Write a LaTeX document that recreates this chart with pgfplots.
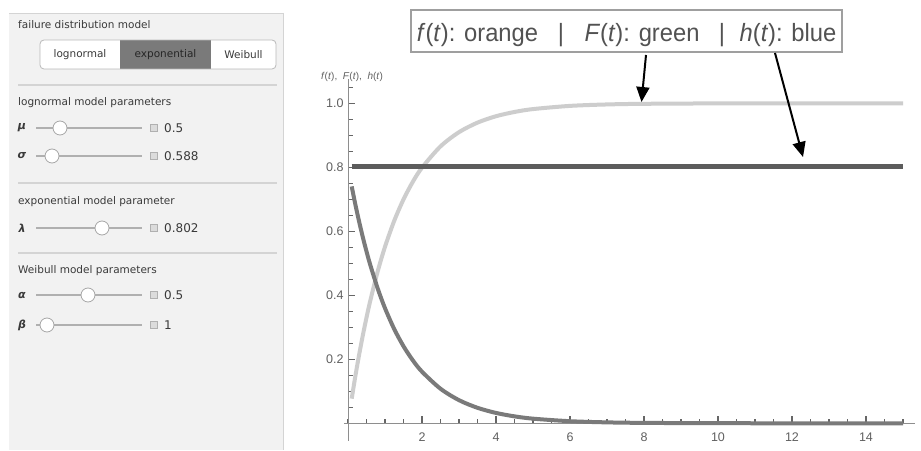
\documentclass[border=0pt]{standalone}
\usepackage{pgfplots}
\pgfplotsset{compat=1.18}
\usepackage{fontspec}
\setmainfont{Liberation Sans}
\newfontfamily\ui{DejaVu Sans}
\newfontfamily\boxfont[FakeStretch=0.95]{Liberation Sans}
\usetikzlibrary{arrows.meta}
\definecolor{panel}{HTML}{F2F2F2}
\definecolor{panelline}{HTML}{D4D4D4}
\definecolor{uitext}{HTML}{3A3A3A}
\definecolor{track}{HTML}{B0B0B0}
\definecolor{axisgray}{HTML}{8E8E8E}
\definecolor{tickgray}{HTML}{666666}
\definecolor{labelgray}{HTML}{606060}
\definecolor{fcol}{HTML}{7A7A7A}
\definecolor{Fcol}{HTML}{CDCDCD}
\definecolor{hcol}{HTML}{5C5C5C}
\newcommand{\slider}[4]{%
  \draw[track, line width=1.6pt] (36,#1) -- (142,#1);
  \draw[fill=white, draw=gray!70, line width=0.8pt] (#2,#1) circle (7);
  \draw[fill=panel!80!gray, draw=track, line width=0.7pt] (150.5,{#1-3.5}) rectangle (157.5,{#1+3.5});
  \node[anchor=west, inner sep=0, text=uitext, font=\ui\fontsize{12}{14}\selectfont] at (164,#1) {#3};
  \node[anchor=center, inner sep=0, text=uitext, font=\ui\bfseries\itshape\fontsize{11}{13}\selectfont] at (22,#1) {#4};
}
\begin{document}
\begin{tikzpicture}
\useasboundingbox (0,0) rectangle (921pt,450pt);
\fill[white] (0,0) rectangle (921pt,450pt);
\begin{scope}[x=1pt,y=-1pt,yshift=450pt]
  % control panel
  \fill[panel] (9,13) rectangle (283,450);
  \draw[panelline, line width=1pt] (283,13) -- (283,450);
  \draw[panelline, line width=0.6pt] (9,13) -- (283,13);
  \node[anchor=west, inner sep=0, text=uitext, font=\ui\fontsize{10.5}{12}\selectfont] at (18,25) {failure distribution model};
  \fill[white, rounded corners=4pt] (40,40) rectangle (276,69);
  \fill[fcol] (120,40) rectangle (211,69);
  \draw[gray!55, line width=0.8pt, rounded corners=4pt] (40,40) rectangle (276,69);
  \node[text=uitext, font=\ui\fontsize{10.5}{12}\selectfont] at (80,55) {lognormal};
  \node[text=black!85, font=\ui\fontsize{10.5}{12}\selectfont] at (165.5,55) {exponential};
  \node[text=uitext, font=\ui\fontsize{10.5}{12}\selectfont] at (243.5,55) {Weibull};
  \draw[panelline, line width=1.2pt] (18,85) -- (277,85);
  \node[anchor=west, inner sep=0, text=uitext, font=\ui\fontsize{10.5}{12}\selectfont] at (18,103) {lognormal model parameters};
  \slider{128}{60}{0.5}{μ}
  \slider{156}{52}{0.588}{σ}
  \draw[panelline, line width=1.2pt] (18,183) -- (277,183);
  \node[anchor=west, inner sep=0, text=uitext, font=\ui\fontsize{10.5}{12}\selectfont] at (18,202) {exponential model parameter};
  \slider{228}{102}{0.802}{λ}
  \draw[panelline, line width=1.2pt] (18,253) -- (277,253);
  \node[anchor=west, inner sep=0, text=uitext, font=\ui\fontsize{10.5}{12}\selectfont] at (18,271) {Weibull model parameters};
  \slider{295}{88}{0.5}{α}
  \slider{325}{47}{1}{β}
\end{scope}
\begin{axis}[
  at={(344.3pt,9.1pt)}, anchor=south west,
  scale only axis, width=570.9pt, height=361.6pt,
  xmin=-0.1, xmax=15.33, ymin=-0.055, ymax=1.075,
  axis lines=middle,
  axis line style={-, color=axisgray, line width=1pt},
  xtick={2,4,...,14},
  minor xtick={0,0.5,...,15},
  ytick={0.2,0.4,0.6,0.8,1.0},
  minor ytick={0.05,0.1,...,1.05},
  tick align=inside,
  major tick length=7pt, minor tick length=4.5pt,
  every tick/.style={color=tickgray, line width=1.2pt},
  tick label style={font=\fontsize{12.5}{14}\selectfont, text=labelgray},
  xticklabel style={yshift=-6pt},
  yticklabel style={xshift=-1pt, /pgf/number format/.cd, fixed, fixed zerofill, precision=1},
  /pgf/number format/assume math mode=true,
  clip=false,
]
\addplot[Fcol, line width=4pt, smooth] coordinates {
 (0.1,0.0771) (0.2,0.1482) (0.3,0.2139) (0.4,0.2745) (0.5,0.3304) (0.6,0.3820)
 (0.8,0.4736) (1.0,0.5516) (1.25,0.6330) (1.5,0.6997) (1.75,0.7543) (2.0,0.7989)
 (2.5,0.8653) (3.0,0.9098) (3.5,0.9396) (4.0,0.9596) (4.5,0.9729) (5,0.9819)
 (6,0.9919) (7,0.9964) (8,0.9984) (10,0.9997) (12,1.0) (15,1.0)};
\addplot[fcol, line width=4pt, smooth] coordinates {
 (0.1,0.7402) (0.2,0.6831) (0.3,0.6305) (0.4,0.5819) (0.5,0.5371) (0.6,0.4957)
 (0.8,0.4222) (1.0,0.3596) (1.25,0.2943) (1.5,0.2408) (1.75,0.1971) (2.0,0.1613)
 (2.5,0.1080) (3.0,0.0723) (3.5,0.0484) (4.0,0.0324) (4.5,0.0217) (5,0.0145)
 (6,0.0065) (7,0.0029) (8,0.0013) (10,0.0003) (12,0.0001) (15,0.0)};
\addplot[hcol, line width=4.5pt] coordinates {(0.1,0.802) (15,0.802)};
\end{axis}
\begin{scope}[x=1pt,y=-1pt,yshift=450pt]
  \node[text=labelgray, font=\fontsize{10}{12}\selectfont] at (352,77)
    {\textit{f}(\textit{t}),\ \ \textit{F}(\textit{t}),\ \ \textit{h}(\textit{t})};
  \draw[fill=white, draw=gray!75, line width=1.2pt] (411,10) rectangle (842,52);
  \begin{scope}[every node/.style={text=black!68, font=\boxfont\fontsize{25}{28}\selectfont, inner sep=0}]
    \node[anchor=base] at (477.5,42) {\textit{f}(\textit{t}): orange};
    \node[anchor=base] at (561,42) {|};
    \node[anchor=base] at (642,42) {\textit{F}(\textit{t}): green};
    \node[anchor=base] at (722,42) {|};
    \node[anchor=base] at (788,42) {\textit{h}(\textit{t}): blue};
  \end{scope}
  \draw[black, line width=2pt, -{Triangle[length=15pt,width=13pt]}] (646,55) -- (641.5,102);
  \draw[black, line width=2pt, -{Triangle[length=15pt,width=13pt]}] (775,53) -- (803,157);
\end{scope}
\end{tikzpicture}
\end{document}
